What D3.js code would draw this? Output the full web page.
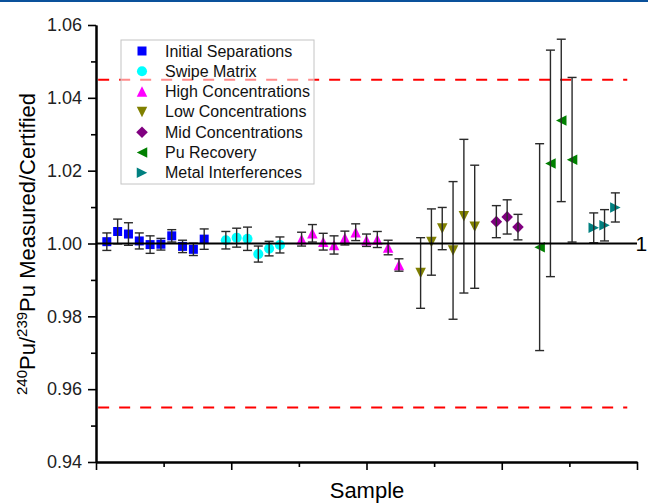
<!DOCTYPE html>
<html>
<head>
<meta charset="utf-8">
<script src="https://cdn.jsdelivr.net/npm/d3@7"></script>
<style>
  body { margin: 0; background: #fff; }
  svg { display: block; font-family: "Liberation Sans", Arial, sans-serif; }
</style>
</head>
<body>
<svg id="chart" width="648" height="504"></svg>
<script>
// series names, in legend order
const seriesNames = ["Initial Separations", "Swipe Matrix", "High Concentrations",
  "Low Concentrations", "Mid Concentrations", "Pu Recovery", "Metal Interferences"];

// sample numbers (x) per series
const initialX = [1, 2, 3, 4, 5, 6, 7, 8, 9, 10];
const swipeX = [12, 13, 14, 15, 16, 17];
const highX = [19, 20, 21, 22, 23, 24, 25, 26, 27, 28];
const lowX = [30, 31, 32, 33, 34, 35];
const midX = [37, 38, 39];
const recoveryX = [41, 42, 43, 44];
const metalX = [46, 47, 48];

// measured / certified ratio per series
const initialY = [1.0005, 1.0033, 1.0026, 1.0007, 0.9997, 0.9998, 1.0021, 0.9992, 0.9984, 1.0012];
const swipeY = [1.0009, 1.0016, 1.0013, 0.9971, 0.9986, 0.9996];
const highY = [1.0012, 1.0028, 1.0005, 0.9996, 1.0015, 1.0031, 1.0009, 1.0011, 0.9989, 0.9941];
const lowY = [0.9919, 1.0004, 1.0041, 0.9981, 1.0075, 1.0046];
const midY = [1.0060, 1.0073, 1.0045];
const recoveryY = [0.9990, 1.0220, 1.0338, 1.0230];
const metalY = [1.0043, 1.0050, 1.0099];

// uncertainties (half-length of error bars)
const initialErr = [0.0024, 0.0034, 0.0031, 0.0022, 0.0024, 0.0016, 0.0017, 0.0017, 0.0017, 0.0028];
const swipeErr = [0.0024, 0.0026, 0.0032, 0.0022, 0.0020, 0.0022];
const highErr = [0.0019, 0.0024, 0.0023, 0.0025, 0.0019, 0.0023, 0.0017, 0.0022, 0.0020, 0.0017];
const lowErr = [0.0097, 0.0091, 0.0058, 0.0189, 0.0211, 0.0169];
const midErr = [0.0044, 0.0047, 0.0035];
const recoveryErr = [0.0284, 0.0311, 0.0223, 0.0226];
const metalErr = [0.0041, 0.0043, 0.0040];

// reference lines
const limitLines = [1.045, 0.955];
const targetLine = 1.0;

// axis ticks
const yMajorTicks = [0.94, 0.96, 0.98, 1.00, 1.02, 1.04, 1.06];
const yMinorTicks = [0.95, 0.97, 0.99, 1.01, 1.03, 1.05];
const xMajorTicks = [0, 12.5, 25, 37.5, 50];
const xMinorTicks = [6.25, 18.75, 31.25, 43.75];

// styles
const colors = ["#0000ff", "#00ffff", "#ff00ff", "#808000", "#800080", "#008000", "#008080"];
const shapes = ["square", "circle", "up", "down", "diamond", "left", "right"];

const series = seriesNames.map((name, i) => {
    const xs = [initialX, swipeX, highX, lowX, midX, recoveryX, metalX][i];
    const ys = [initialY, swipeY, highY, lowY, midY, recoveryY, metalY][i];
    const es = [initialErr, swipeErr, highErr, lowErr, midErr, recoveryErr, metalErr][i];
    return { name: name, color: colors[i], shape: shapes[i],
        points: xs.map((x, j) => ({ x: x, y: ys[j], e: es[j] })) };
});

const svg = d3.select("#chart");

const x = d3.scaleLinear().domain([0, 50]).range([96, 637]);
const y = d3.scaleLinear().domain([0.94, 1.06]).range([462, 25]);

// marker paths
function markerPath(shape) {
    const s = 10.5;
    if (shape === "square") return "M-4.5,-4.5H4.5V4.5H-4.5Z";
    if (shape === "circle") return d3.symbol(d3.symbolCircle, 80)();
    if (shape === "diamond") return "M0,-5.8L5.8,0L0,5.8L-5.8,0Z";
    const tri = [[0, -s / 2], [s / 2, s / 2], [-s / 2, s / 2]];
    const rot = { up: 0, down: 180, left: -90, right: 90 }[shape];
    const a = rot * Math.PI / 180;
    const pts = tri.map(p => [p[0] * Math.cos(a) - p[1] * Math.sin(a), p[0] * Math.sin(a) + p[1] * Math.cos(a)]);
    return "M" + pts.map(p => p[0].toFixed(2) + "," + p[1].toFixed(2)).join("L") + "Z";
}

// thin top strip
svg.append("rect").attr("x", 0).attr("y", 0).attr("width", 648).attr("height", 2).attr("fill", "#0a519b");

// red limit lines
svg.selectAll(".limit")
    .data(limitLines)
    .enter()
    .append("line")
    .attr("class", "limit")
    .attr("x1", x(0.2)).attr("x2", x(49.1))
    .attr("y1", d => y(d)).attr("y2", d => y(d))
    .attr("stroke", "#ff0000")
    .attr("stroke-width", 2)
    .attr("stroke-dasharray", "11,10");

// markers
series.forEach(s => {
    svg.append("g")
        .selectAll("path")
        .data(s.points)
        .enter()
        .append("path")
        .attr("d", markerPath(s.shape))
        .attr("transform", d => `translate(${x(d.x)},${y(d.y)})`)
        .attr("fill", s.color);
});

// error bars, drawn over markers
const allPoints = series.flatMap(s => s.points);
const eb = svg.append("g").attr("stroke", "#2a2a2a").attr("stroke-width", 1.4);
eb.selectAll(".stem").data(allPoints).enter().append("line")
    .attr("x1", d => x(d.x)).attr("x2", d => x(d.x))
    .attr("y1", d => y(d.y + d.e)).attr("y2", d => y(d.y - d.e));
eb.selectAll(".capTop").data(allPoints).enter().append("line")
    .attr("x1", d => x(d.x) - 4.5).attr("x2", d => x(d.x) + 4.5)
    .attr("y1", d => y(d.y + d.e)).attr("y2", d => y(d.y + d.e));
eb.selectAll(".capBot").data(allPoints).enter().append("line")
    .attr("x1", d => x(d.x) - 4.5).attr("x2", d => x(d.x) + 4.5)
    .attr("y1", d => y(d.y - d.e)).attr("y2", d => y(d.y - d.e));

// target line at 1
svg.append("line")
    .attr("x1", x(0)).attr("x2", x(50))
    .attr("y1", y(targetLine)).attr("y2", y(targetLine))
    .attr("stroke", "#000").attr("stroke-width", 2);
svg.append("text")
    .attr("x", x(50) - 1.5).attr("y", y(targetLine) + 7.5)
    .attr("font-size", 21)
    .text("1");

// axes
function styleAxis(g) {
    g.select(".domain").attr("stroke", "#000").attr("stroke-width", 2);
    g.selectAll(".tick line").attr("stroke", "#000").attr("stroke-width", 1.6);
    g.selectAll(".tick text").attr("fill", "#222").attr("font-size", 18)
        .attr("font-family", "Liberation Sans, Arial, sans-serif");
}

svg.append("g")
    .attr("transform", "translate(96,0)")
    .call(d3.axisLeft(y).tickValues(yMinorTicks).tickSize(5).tickSizeOuter(0).tickFormat(""))
    .call(styleAxis);
svg.append("g")
    .attr("transform", "translate(96,0)")
    .call(d3.axisLeft(y).tickValues(yMajorTicks).tickSize(8).tickSizeOuter(0).tickPadding(6).tickFormat(d3.format(".2f")))
    .call(styleAxis);

svg.append("g")
    .attr("transform", `translate(0,${y(0.94)})`)
    .call(d3.axisBottom(x).tickValues(xMinorTicks).tickSize(5).tickSizeOuter(0).tickFormat(""))
    .call(styleAxis);
svg.append("g")
    .attr("transform", `translate(0,${y(0.94)})`)
    .call(d3.axisBottom(x).tickValues(xMajorTicks).tickSize(8).tickSizeOuter(0).tickFormat(""))
    .call(styleAxis);

// axis titles
svg.append("text")
    .attr("x", 367).attr("y", 498)
    .attr("text-anchor", "middle")
    .attr("font-size", 22)
    .text("Sample");

const yTitle = svg.append("text")
    .attr("transform", "translate(35,244) rotate(-90)")
    .attr("text-anchor", "middle")
    .attr("font-size", 22);
yTitle.append("tspan").attr("font-size", 15).attr("dy", -8).text("240");
yTitle.append("tspan").attr("dy", 8).text("Pu/");
yTitle.append("tspan").attr("font-size", 15).attr("dy", -8).text("239");
yTitle.append("tspan").attr("dy", 8).text("Pu Measured/Certified");

// legend
const legend = svg.append("g");
legend.append("rect")
    .attr("x", 121).attr("y", 40).attr("width", 193).attr("height", 144)
    .attr("fill", "#fff").attr("fill-opacity", 0.55)
    .attr("stroke", "#c4c4c4").attr("stroke-width", 1);
const rows = legend.selectAll(".row")
    .data(series)
    .enter()
    .append("g")
    .attr("transform", (d, i) => `translate(142,${51 + i * 20.3})`);
rows.append("path")
    .attr("d", d => markerPath(d.shape))
    .attr("fill", d => d.color);
rows.append("text")
    .attr("x", 23).attr("y", 5.5)
    .attr("font-size", 16)
    .attr("fill", "#111")
    .text(d => d.name);
</script>
</body>
</html>
